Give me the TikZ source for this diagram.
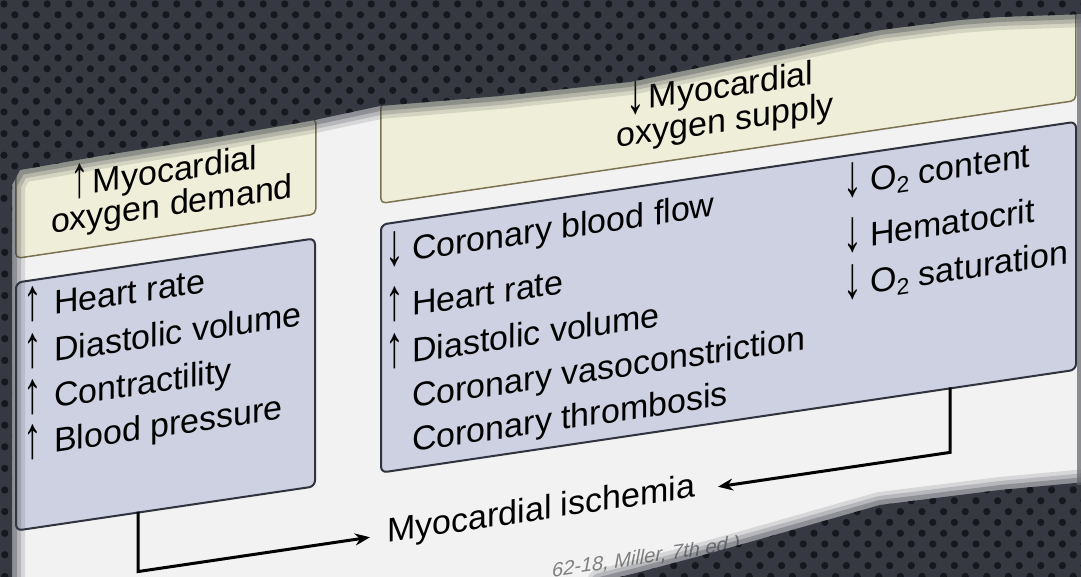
\documentclass[tikz,border=0pt]{standalone}
\usepackage{fontspec}
\setmainfont{Liberation Sans}
\usetikzlibrary{arrows.meta}
\definecolor{slidebg}{HTML}{F2F2F2}
\definecolor{creamfill}{HTML}{EFEED8}
\definecolor{creamline}{HTML}{7A7250}
\definecolor{bluefill}{HTML}{CDD1E1}
\definecolor{blueline}{HTML}{30323D}
\definecolor{darkbg}{HTML}{363942}
\definecolor{darkdot}{HTML}{16181D}
\newcommand{\arrU}{\makebox[10pt][c]{\raisebox{-2pt}{\scalebox{1.1}[1.75]{↑}}}}
\newcommand{\arrD}{\makebox[10pt][c]{\raisebox{-2pt}{\scalebox{1.1}[1.75]{↓}}}}
\newcommand{\hup}{\makebox[18pt][l]{\arrU}}
\newcommand{\hdown}{\makebox[18pt][l]{\arrD}}
\newcommand{\iup}{\makebox[26pt][l]{\arrU}}
\newcommand{\idown}{\makebox[22pt][l]{\arrD}}
\newcommand{\rup}{\makebox[22pt][l]{\arrU}}
\newcommand{\Otwo}{O\raisebox{-6pt}{\fontsize{23}{23}\selectfont 2}}
\begin{document}
\begin{tikzpicture}[x=1pt,y=1pt,
  txt/.style={font=\fontsize{34}{40}\selectfont, inner sep=0pt, text=black},
  hdrbox/.style={draw=creamline, fill=creamfill, line width=1.5pt, rounded corners=5pt, inner sep=0pt},
  itembox/.style={draw=blueline, fill=bluefill, line width=2pt, rounded corners=6pt, inner sep=0pt},
  conn/.style={line width=3pt, black, line join=miter},
  tip/.style={-{Stealth[length=15pt,width=12pt]}},
]
\useasboundingbox (0,0) rectangle (1081,577);
\fill[slidebg] (0,0) rectangle (1081,577);

% ---------- sheared diagram ----------
\begin{scope}[cm={1,0.148,0,1,(0,577)}, transform shape]
  \node[hdrbox, minimum width=300pt, minimum height=96pt, anchor=north west] (ly) at (15,-164) {};
  \node[itembox, minimum width=299pt, minimum height=248pt, anchor=north west] (lb) at (15,-284) {};
  \node[hdrbox, minimum width=695pt, minimum height=100pt, anchor=north west] (ry) at (380,-159) {};
  \node[itembox, minimum width=695pt, minimum height=248pt, anchor=north west] (rb) at (380,-280) {};

  \node[txt, anchor=base] (ly1) at (166,-207) {\hup Myocardial};
  \node[txt, anchor=base] (ly2) at (172,-241) {oxygen demand};
  \node[txt, anchor=base] (ry1) at (722,-205) {\hdown Myocardial};
  \node[txt, anchor=base] (ry2) at (725,-239) {oxygen supply};

  \node[txt, anchor=base west] (lb1) at (28,-323) {\iup Heart rate};
  \node[txt, anchor=base west] (lb2) at (28,-370) {\iup Diastolic volume};
  \node[txt, anchor=base west] (lb3) at (28,-416) {\iup Contractility};
  \node[txt, anchor=base west] (lb4) at (28,-461) {\iup Blood pressure};

  \node[txt, anchor=base west] (rb1) at (390,-322) {\idown Coronary blood flow};
  \node[txt, anchor=base west] (rb2) at (390,-377) {\rup Heart rate};
  \node[txt, anchor=base west] (rb3) at (390,-424) {\rup Diastolic volume};
  \node[txt, anchor=base west] (rb4) at (412,-469) {Coronary vasoconstriction};
  \node[txt, anchor=base west] (rb5) at (412,-513) {Coronary thrombosis};

  \node[txt, anchor=base west] (rc1) at (848,-320) {\idown\Otwo\ content};
  \node[txt, anchor=base west] (rc2) at (848,-375) {\idown Hematocrit};
  \node[txt, anchor=base west] (rc3) at (848,-422) {\idown\Otwo\ saturation};

  \node[txt, anchor=base west] (isch) at (387,-600) {Myocardial ischemia};
  \node[font=\fontsize{20}{20}\selectfont\itshape, text=black!50, inner sep=0pt, anchor=base west] (cite) at (552,-659) {62-18, Miller, 7th ed.)};

  \coordinate (lbo) at (138,-532);
  \coordinate (lbc) at (138,-592);
  \coordinate (ista) at (370,-592);
  \coordinate (rbo) at (950,-528);
  \coordinate (rbc) at (950,-593);
  \coordinate (istb) at (718,-593);
  \draw[conn, tip] (lbo) -- (lbc) -- (ista);
  \draw[conn, tip] (rbo) -- (rbc) -- (istb);
\end{scope}

% ---------- dark surroundings (image coordinates) ----------
\begin{scope}[yshift=577pt, yscale=-1]
  \def\toppath{(-5,-5) -- (1086,-5) -- (1086,14) -- (1000,17) -- (960,20) -- (880,30) -- (760,55) -- (630,82) -- (500,96) -- (380,106) -- (310,121) -- (200,140) -- (100,156) -- (20,170) -- (12,185) -- (12,582) -- (-5,582) -- cycle}
  \def\botpath{(600,582) -- (640,572) -- (700,556) -- (750,542) -- (880,505) -- (1000,490) -- (1086,482) -- (1086,582) -- cycle}
  \foreach \w/\o in {26/0.14,18/0.2,10/0.3}{
    \draw[darkbg, line width=\w pt, opacity=\o, line join=round] \toppath;
    \draw[darkbg, line width=\w pt, opacity=\o, line join=round] \botpath;
  }
  \fill[darkbg] \toppath;
  \fill[darkbg] \botpath;
  \fill[darkbg!80!white, opacity=0.7] (1077,14) rectangle (1086,485);
  \begin{scope}
    \clip \toppath;
    \foreach \r in {0,...,19}{
      \foreach \c in {0,...,50}{
        \fill[darkdot] ({\c*21.6+mod(\r,2)*10.8+4},{\r*10.8+4}) circle (3.6pt);
      }
    }
    \foreach \r in {20,...,54}{
      \foreach \c in {0,...,1}{
        \fill[darkdot] ({\c*21.6+mod(\r,2)*10.8-6},{\r*10.8+4}) circle (3.6pt);
      }
    }
  \end{scope}
  \begin{scope}
    \clip \botpath;
    \foreach \r in {43,...,54}{
      \foreach \c in {26,...,50}{
        \fill[darkdot] ({\c*21.6+mod(\r,2)*10.8+4},{\r*10.8+4}) circle (3.6pt);
      }
    }
  \end{scope}
\end{scope}
\end{tikzpicture}
\end{document}
